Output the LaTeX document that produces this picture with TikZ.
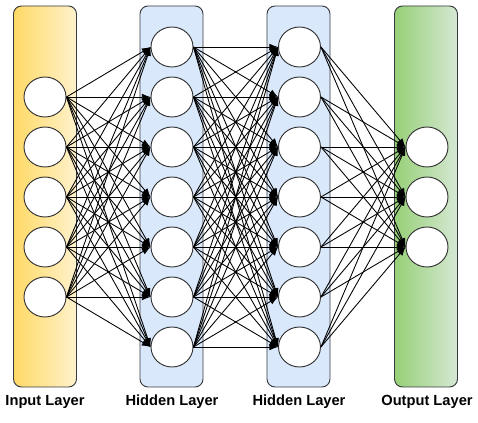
\documentclass[tikz,border=0pt]{standalone}
\usepackage{fontspec}
\setmainfont{Liberation Sans}
\usepackage{tikz}
\usetikzlibrary{positioning,arrows.meta,shapes.geometric}
\definecolor{inL}{HTML}{FFD966}
\definecolor{inR}{HTML}{FFF2CC}
\definecolor{hidF}{HTML}{DAE8FC}
\definecolor{outL}{HTML}{97D077}
\definecolor{outR}{HTML}{D5E8D4}
\definecolor{edgegray}{HTML}{36393D}
\tikzset{
  layer/.style={draw=edgegray,rounded corners=6pt,line width=0.7pt,minimum width=47.25pt,minimum height=285.75pt,inner sep=0pt},
  neuron/.style={draw=black!80,fill=white,ellipse,line width=0.7pt,minimum width=31.5pt,minimum height=30pt,inner sep=0pt},
  arr/.style={-{Latex[length=6.5pt,width=5pt]},line width=0.65pt},
  lbl/.style={font=\bfseries\fontsize{11}{13}\selectfont,inner sep=0pt}
}
\begin{document}
\begin{tikzpicture}[x=0.75pt,y=-0.75pt]
\useasboundingbox (0,0) rectangle (478,423);
\node[layer, left color=inL, right color=inR] (inbox) at (45,196.5) {};
\node[layer, fill=hidF] (hidabox) at (171.5,196.5) {};
\node[layer, fill=hidF] (hidbbox) at (298.5,196.5) {};
\node[layer, left color=outL, right color=outR] (outbox) at (426,196.5) {};

\foreach \i in {1,...,5} \node[neuron] (in-\i) at (45,47+50*\i) {};
\foreach \i in {1,...,7} \node[neuron] (hida-\i) at (172,-3+50*\i) {};
\foreach \i in {1,...,7} \node[neuron] (hidb-\i) at (299.5,-3+50*\i) {};
\foreach \i in {1,...,3} \node[neuron] (out-\i) at (427,97+50*\i) {};

\foreach \i in {1,...,5} \foreach \j in {1,...,7}
  \draw[arr] (in-\i.east) -- (hida-\j.west);
\foreach \i in {1,...,7} \foreach \j in {1,...,7}
  \draw[arr] (hida-\i.east) -- (hidb-\j.west);
\foreach \i in {1,...,7} \foreach \j in {1,...,3}
  \draw[arr] (hidb-\i.east) -- (out-\j.west);

\node[lbl] (inlbl) at (45,402) {Input Layer};
\node[lbl] (hidalbl) at (172,402) {Hidden Layer};
\node[lbl] (hidblbl) at (299,402) {Hidden Layer};
\node[lbl] (outlbl) at (427,402) {Output Layer};
\end{tikzpicture}
\end{document}
